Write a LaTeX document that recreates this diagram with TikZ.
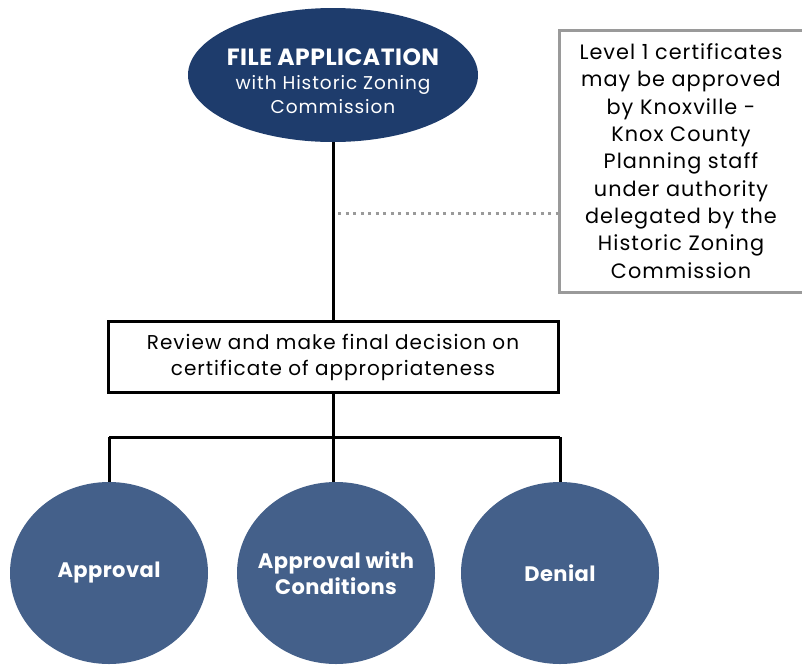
\documentclass[tikz,border=0pt]{standalone}
\usepackage{fontspec}
\setmainfont{Poppins}[LetterSpace=5]
\newfontfamily\boldtight{Poppins}[LetterSpace=2]
\usetikzlibrary{shapes.geometric}
\definecolor{navy}{HTML}{1E3C6C}
\definecolor{steel}{HTML}{44608A}
\definecolor{notegray}{HTML}{9A9A9A}
\begin{document}
\begin{tikzpicture}[x=1pt,y=-1pt,
  topoval/.style={ellipse,fill=navy,minimum width=290,minimum height=134,inner sep=-25,text=white,align=center,font=\fontsize{18.5}{24}\selectfont},
  outcome/.style={ellipse,fill=steel,minimum width=198,minimum height=182,inner sep=-25,text=white,align=center,font=\boldtight\fontsize{21}{26}\selectfont\bfseries},
  notebox/.style={draw=notegray,line width=3,minimum width=244,minimum height=262,inner sep=0,align=center,font=\fontsize{20.8}{27.3}\selectfont},
  reviewbox/.style={draw=black,line width=3,minimum width=450,minimum height=71,inner sep=0,align=center,font=\fontsize{20}{26}\selectfont},
  link/.style={line width=3,draw=black},
  dots/.style={draw=notegray,line width=3,dash pattern=on 3 off 4.5}]
\useasboundingbox (0,0) rectangle (802,664);
\node[topoval] (file) at (333,75) {\rule{0pt}{30pt}{\boldtight\fontsize{23.5}{25}\selectfont\bfseries FILE APPLICATION}\\with Historic Zoning\\Commission};
\node[notebox] (note) at (681,161) {Level 1 certificates\\may be approved\\by Knoxville -\\Knox County\\Planning staff\\under authority\\delegated by the\\Historic Zoning\\Commission};
\node[reviewbox] (review) at (333,357) {Review and make final decision on\\certificate of appropriateness};
\node[outcome] (appr) at (109,573) {Approval};
\node[outcome] (cond) at (336,573) {Approval with\\Conditions};
\node[outcome] (deny) at (560,573) {Denial};
\coordinate (dotend) at (333,213);
\coordinate (split) at (333,437);
\draw[link] (file.south) -- (review.north);
\draw[dots] ([xshift=5]dotend) -- (dotend -| note.west);
\draw[link] (review.south) -- (split);
\draw[link] (split -| appr) -- (split -| deny);
\draw[link] (split -| appr) -- (appr.north);
\draw[link] (split) -- (split |- cond.north);
\draw[link] (split -| deny) -- (deny.north);
\end{tikzpicture}
\end{document}
